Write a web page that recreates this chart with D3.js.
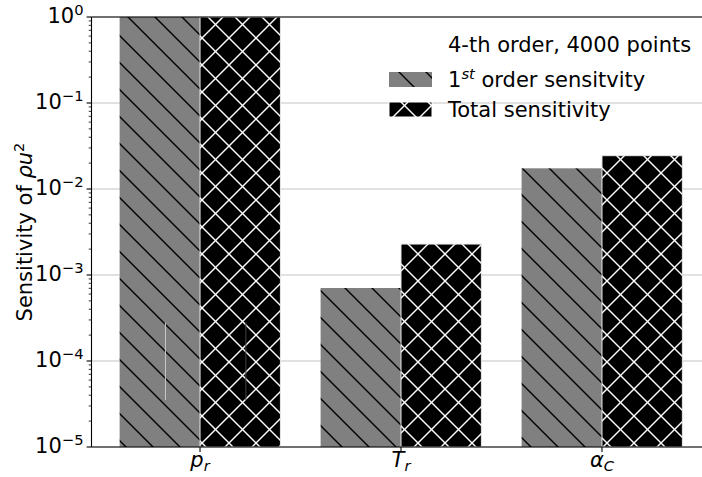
<!DOCTYPE html>
<html><head><meta charset="utf-8">
<script src="https://cdn.jsdelivr.net/npm/d3@7"></script>
<style>body{margin:0;background:#fff} svg{display:block;font-family:"DejaVu Sans",sans-serif}</style>
</head><body><svg id="c" width="702" height="477"></svg>
<script>
// ---- data ----
const catMain = ["p", "T", "α"];
const catSub = ["r", "r", "C"];
const firstOrder = [1.0, 7.06e-4, 0.0174];
const totalSens = [1.0, 2.29e-3, 0.0244];
const errLow = [3.5e-5, null, null];
const errHigh = [2.8e-4, null, null];
const yTicks = [1e-5, 1e-4, 1e-3, 1e-2, 1e-1, 1];
const yTickExp = ["−5", "−4", "−3", "−2", "−1", "0"];
const legendTitle = "4-th order, 4000 points";
const legendFirst = ["1", "st", " order sensitvity"];
const legendTotal = "Total sensitivity";

// ---- layout ----
const W = 702, H = 477;
const L = 91.5, T = 17, B = 447, R = 710.5;
const FS = 21, FSS = 14.7;
const svg = d3.select("#c");
const x = d3.scaleLinear().domain([-0.54, 2.54]).range([L, R]);
const y = d3.scaleLog().domain([1e-5, 1]).range([B, T]);
const barW = 0.4;
const idx = d3.range(catMain.length);

// ---- patterns ----
const defs = svg.append("defs");
const P = 27;
function hatchPattern(id, bg, fg, back, fwd) {
  const p = defs.append("pattern").attr("id", id).attr("patternUnits", "userSpaceOnUse")
    .attr("width", P).attr("height", P);
  p.append("rect").attr("width", P).attr("height", P).attr("fill", bg);
  for (let k = -2; k <= 2; k++) {
    if (back !== null) {
      const c = back + k * P; // x - y = c
      p.append("line").attr("x1", c - 10).attr("y1", -10).attr("x2", c + P + 10).attr("y2", P + 10)
        .attr("stroke", fg).attr("stroke-width", 1.4);
    }
    if (fwd !== null) {
      const c = fwd + k * P; // x + y = c
      p.append("line").attr("x1", c + 10).attr("y1", -10).attr("x2", c - P - 10).attr("y2", P + 10)
        .attr("stroke", fg).attr("stroke-width", 1.4);
    }
  }
}
hatchPattern("hGrey", "#808080", "#000", 3, null);
hatchPattern("hBlack", "#000", "#fff", 2, 24);

defs.append("clipPath").attr("id", "plotClip").append("rect")
  .attr("x", L).attr("y", T).attr("width", R - L).attr("height", B - T);

// ---- grid ----
svg.append("g").selectAll("line").data(yTicks).join("line")
  .attr("x1", L).attr("x2", W).attr("y1", d => y(d)).attr("y2", d => y(d))
  .attr("stroke", "#c4c4c4").attr("stroke-width", 1.1);

// ---- bars ----
const gb = svg.append("g").attr("clip-path", "url(#plotClip)");
gb.selectAll("rect.first").data(idx).join("rect").attr("class", "first")
  .attr("x", i => x(i - barW)).attr("width", i => x(i) - x(i - barW))
  .attr("y", i => y(firstOrder[i])).attr("height", i => B - y(firstOrder[i]))
  .attr("fill", "url(#hGrey)");
gb.selectAll("rect.total").data(idx).join("rect").attr("class", "total")
  .attr("x", i => x(i)).attr("width", i => x(i + barW) - x(i))
  .attr("y", i => y(totalSens[i])).attr("height", i => B - y(totalSens[i]))
  .attr("fill", "url(#hBlack)").attr("stroke", "#e8e8e8").attr("stroke-width", 1);

// thin error lines
const eIdx = idx.filter(i => errLow[i] !== null);
gb.selectAll("line.e1").data(eIdx).join("line").attr("class", "e1")
  .attr("x1", i => x(i - barW / 2 + 0.028)).attr("x2", i => x(i - barW / 2 + 0.028))
  .attr("y1", i => y(errLow[i])).attr("y2", i => y(errHigh[i]))
  .attr("stroke", "#c8c8c8").attr("stroke-width", 1);
gb.selectAll("line.e2").data(eIdx).join("line").attr("class", "e2")
  .attr("x1", i => x(i + barW / 2 + 0.028)).attr("x2", i => x(i + barW / 2 + 0.028))
  .attr("y1", i => y(errLow[i])).attr("y2", i => y(errHigh[i]))
  .attr("stroke", "#444").attr("stroke-width", 1);

// ---- spines ----
const sp = svg.append("g").attr("stroke", "#000").attr("stroke-width", 1.1);
sp.append("line").attr("x1", L).attr("x2", W).attr("y1", T).attr("y2", T);
sp.append("line").attr("x1", L).attr("x2", W).attr("y1", B).attr("y2", B);
sp.append("line").attr("x1", L).attr("x2", L).attr("y1", T).attr("y2", B);

// ---- y ticks ----
const minor = [];
for (let e = -5; e < 0; e++) for (let m = 2; m <= 9; m++) minor.push(m * Math.pow(10, e));
svg.append("g").selectAll("line").data(minor).join("line")
  .attr("x1", L - 2.8).attr("x2", L).attr("y1", d => y(d)).attr("y2", d => y(d))
  .attr("stroke", "#000").attr("stroke-width", 0.8);
svg.append("g").selectAll("line").data(yTicks).join("line")
  .attr("x1", L - 4.9).attr("x2", L).attr("y1", d => y(d)).attr("y2", d => y(d))
  .attr("stroke", "#000").attr("stroke-width", 1.1);
const yl = svg.append("g").selectAll("text").data(yTicks).join("text")
  .attr("x", L - 8).attr("y", d => y(d) + 6).attr("text-anchor", "end")
  .attr("font-size", FS).attr("fill", "#000");
yl.append("tspan").text("10");
yl.append("tspan").attr("dy", -8).attr("font-size", FSS).text((d, i) => yTickExp[i]);

// ---- x ticks ----
svg.append("g").selectAll("line").data(idx).join("line")
  .attr("x1", i => x(i)).attr("x2", i => x(i)).attr("y1", B).attr("y2", B + 4.9)
  .attr("stroke", "#000").attr("stroke-width", 1.1);
const xl = svg.append("g").selectAll("text").data(idx).join("text")
  .attr("x", i => x(i)).attr("y", 467).attr("text-anchor", "middle")
  .attr("font-size", FS).attr("font-style", "italic").attr("fill", "#000");
xl.append("tspan").text(i => catMain[i]);
xl.append("tspan").attr("dy", 4).attr("font-size", FSS).text(i => catSub[i]);

// ---- y label ----
const ylab = svg.append("text").attr("transform", `translate(32,${(T + B) / 2}) rotate(-90)`)
  .attr("text-anchor", "middle").attr("font-size", FS).attr("fill", "#000");
ylab.append("tspan").text("Sensitivity of ");
ylab.append("tspan").attr("font-style", "italic").text("ρu");
ylab.append("tspan").attr("dy", -8).attr("font-size", FSS).text("2");

// ---- legend ----
const lg = svg.append("g");
lg.append("text").attr("x", 448).attr("y", 52).attr("font-size", FS).text(legendTitle);
lg.append("rect").attr("x", 389).attr("y", 72).attr("width", 43).attr("height", 15).attr("fill", "url(#hGrey)");
lg.append("rect").attr("x", 389).attr("y", 102).attr("width", 43).attr("height", 15)
  .attr("fill", "url(#hBlack)").attr("stroke", "#fff").attr("stroke-width", 1);
const t1 = lg.append("text").attr("x", 448).attr("y", 87).attr("font-size", FS);
t1.append("tspan").text(legendFirst[0]);
t1.append("tspan").attr("dy", -8).attr("font-size", FSS).attr("font-style", "italic").text(legendFirst[1]);
t1.append("tspan").attr("dy", 8).text(legendFirst[2]);
lg.append("text").attr("x", 448).attr("y", 117).attr("font-size", FS).text(legendTotal);
</script>
</body></html>
